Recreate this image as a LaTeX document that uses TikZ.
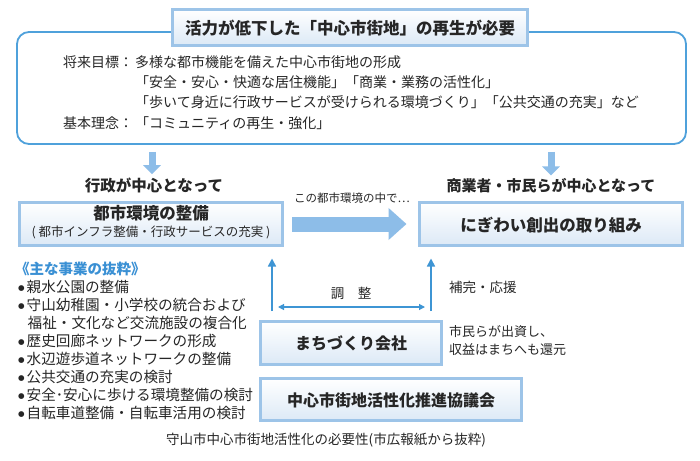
\documentclass[tikz,border=0pt]{standalone}
\usepackage{fontspec}
\setmainfont{Noto Sans CJK JP}
\newfontfamily\dejavu{DejaVu Sans}
\usetikzlibrary{arrows.meta}
\definecolor{bxb}{HTML}{9DC4E8}
\definecolor{bxf}{HTML}{DCE9F6}
\definecolor{rbc}{HTML}{4FA1DB}
\definecolor{fatc}{HTML}{8DBDE8}
\definecolor{thinc}{HTML}{3E95D4}
\definecolor{headc}{HTML}{3A90D4}
\definecolor{txtc}{HTML}{262626}
\newcommand\myfs[1]{\fontsize{#1}{#1}\selectfont}
\newcommand\bul{\raisebox{1.8pt}{\dejavu\myfs{7.5}●}\hspace{2pt}}
\begin{document}
\begin{tikzpicture}[x=1pt,y=-1pt,
  txt/.style={inner sep=0pt, text=txtc, font=\myfs{14}},
  listtxt/.style={txt, anchor=west, font=\myfs{14.6}},
  boxn/.style={draw=bxb, line width=3pt, top color=white, bottom color=bxf, inner sep=0pt},
  rbox/.style={draw=rbc, line width=1.8pt, rounded corners=12pt, fill=white, inner sep=0pt},
  fatd/.style={draw=fatc, line width=7pt, -{Triangle[length=9pt,width=17pt]}},
  fath/.style={draw=fatc, line width=15pt, -{Triangle[length=18pt,width=31pt]}},
  tarrow/.style={draw=thinc, line width=1.6pt, -{Triangle[length=8pt,width=8pt]}},
  darrow/.style={draw=thinc, line width=1.2pt, {Triangle[length=6pt,width=6pt]}-{Triangle[length=6pt,width=6pt]}}
]
\useasboundingbox[fill=white] (0,0) rectangle (700,460);

% top goal box and title
\node[rbox, minimum width=669pt, minimum height=112pt] (goal) at (351.5,88) {};
\node[boxn, line width=3.5pt, minimum width=355pt, minimum height=36pt] (title) at (350,27.5) {};
\node[txt, font=\myfs{16.5}\bfseries] (titletxt) at (350,28) {活力が低下した「中心市街地」の再生が必要};

\node[txt, anchor=west] (l1a) at (63,62) {将来目標：};
\node[txt, anchor=west] (l1b) at (135,62) {多様な都市機能を備えた中心市街地の形成};
\node[txt, anchor=west] (l2) at (135,82) {「安全・安心・快適な居住機能」「商業・業務の活性化」};
\node[txt, anchor=west] (l3) at (135,102) {「歩いて身近に行政サービスが受けられる環境づくり」「公共交通の充実」など};
\node[txt, anchor=west] (l4a) at (63,123) {基本理念：};
\node[txt, anchor=west] (l4b) at (135,123) {「コミュニティの再生・強化」};

% headings
\node[txt, font=\myfs{15.5}\bfseries] (h1) at (154,185) {行政が中心となって};
\node[txt, font=\myfs{15}\bfseries] (h2) at (551,186) {商業者・市民らが中心となって};
\draw[fatd, shorten <=7pt, shorten >=3pt] (goal.south -| 152,0) -- (h1.north -| 152,0);
\draw[fatd, shorten <=7pt, shorten >=3pt] (goal.south -| h2) -- (h2.north);

% main boxes
\node[boxn, minimum width=263pt, minimum height=43pt] (env) at (151,224) {};
\node[txt, font=\myfs{16.5}\bfseries] (envt1) at (151,213) {都市環境の整備};
\node[txt, font=\myfs{12.5}] (envt2) at (151,232) {( 都市インフラ整備・行政サービスの充実 )};
\node[boxn, minimum width=263pt, minimum height=43pt] (nig) at (551,224) {};
\node[txt, font=\myfs{16.5}\bfseries] (nigt) at (551,225) {にぎわい創出の取り組み};
\draw[fath, shorten <=8pt, shorten >=11.5pt] (env.east) -- (nig.west);
\node[txt, font=\myfs{11.5}] (inenv) at (352,198) {この都市環境の中で…};

% list
\node[txt, anchor=west, text=headc, font=\myfs{14.5}\bfseries] (lh) at (15,269) {《主な事業の抜粋》};
\node[listtxt] (b1) at (18,287) {\bul 親水公園の整備};
\node[listtxt] (b2) at (18,305) {\bul 守山幼稚園・小学校の統合および};
\node[listtxt] (b2b) at (27.5,323) {福祉・文化など交流施設の複合化};
\node[listtxt] (b3) at (18,341) {\bul 歴史回廊ネットワークの形成};
\node[listtxt] (b4) at (18,359) {\bul 水辺遊歩道ネットワークの整備};
\node[listtxt] (b5) at (18,377) {\bul 公共交通の充実の検討};
\node[listtxt] (b6) at (18,395) {\bul 安全･安心に歩ける環境整備の検討};
\node[listtxt] (b7) at (18,413) {\bul 自転車道整備・自転車活用の検討};

% coordination
\coordinate (la) at (272,311);
\coordinate (ra) at (431,311);
\draw[tarrow, shorten >=11.5pt] (la) -- (la |- env.south);
\draw[tarrow, shorten >=11.5pt] (ra) -- (ra |- nig.south);
\coordinate (da) at (278,307);
\coordinate (db) at (425,307);
\draw[darrow] (da) -- (db);
\node[txt, font=\myfs{13.5}] (chosei) at (351,293) {調　整};

\node[boxn, minimum width=181pt, minimum height=43pt] (machi) at (351,343) {};
\node[txt, font=\myfs{16}\bfseries] (macht) at (351,343) {まちづくり会社};
\node[boxn, minimum width=261pt, minimum height=42pt] (council) at (391,399.5) {};
\node[txt, font=\myfs{16}\bfseries] (counct) at (391,400) {中心市街地活性化推進協議会};

\node[txt, font=\myfs{13.5}, anchor=west] (hokan) at (449,287) {補完・応援};
\node[txt, font=\myfs{13}, anchor=west] (sh1) at (449,332) {市民らが出資し、};
\node[txt, font=\myfs{13}, anchor=west] (sh2) at (449,350) {収益はまちへも還元};

\node[txt, font=\myfs{13.5}] (caption) at (326,440) {守山市中心市街地活性化の必要性(市広報紙から抜粋)};
\end{tikzpicture}
\end{document}
